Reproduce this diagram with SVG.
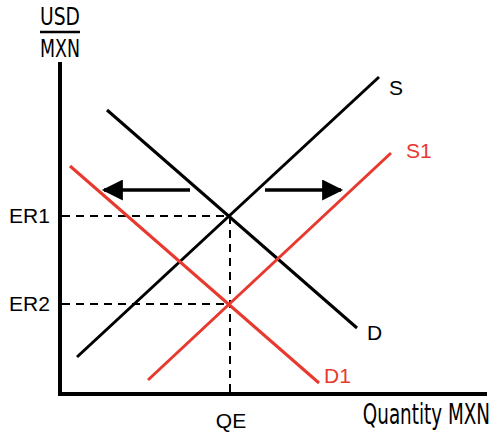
<svg xmlns="http://www.w3.org/2000/svg" width="496" height="435" viewBox="0 0 496 435">
<style>
.ax{stroke:#000;stroke-width:4;fill:none}
.blk{stroke:#000;stroke-width:3;fill:none}
.red{stroke:#e8392f;stroke-width:3;fill:none}
.dash{stroke:#000;stroke-width:2;stroke-dasharray:8 6;fill:none}
.arr{stroke:#000;stroke-width:3.5;fill:none}
.lbl{font-family:"Liberation Sans",Arial,sans-serif;font-size:21px;fill:#000}
.lr{font-family:"Liberation Sans",Arial,sans-serif;font-size:21px;fill:#e8392f}
.cond{font-family:"DejaVu Sans Condensed","Liberation Sans",sans-serif;font-size:24px;fill:#000}
</style>
<defs>
<marker id="ah" viewBox="0 0 10 10" refX="9" refY="5" markerWidth="7" markerHeight="6" markerUnits="strokeWidth" orient="auto">
<path d="M0,0 L10,5 L0,10 z" fill="#000"/>
</marker>
</defs>
<g id="axes">
<line class="ax" x1="60" y1="62" x2="60" y2="395"/>
<line class="ax" x1="58" y1="394" x2="487" y2="394"/>
<text class="cond" x="60" y="25" text-anchor="middle" textLength="40" lengthAdjust="spacingAndGlyphs">USD</text>
<line x1="40" y1="32" x2="80" y2="32" stroke="#000" stroke-width="2.5"/>
<text class="cond" x="60" y="57" text-anchor="middle" textLength="40" lengthAdjust="spacingAndGlyphs">MXN</text>
<text class="cond" transform="translate(490,424) scale(0.85,1.2)" x="0" y="0" text-anchor="end" font-size="20">Quantity MXN</text>
</g>
<g id="connectors">
<line class="dash" x1="62" y1="216" x2="230" y2="216"/>
<line class="dash" x1="62" y1="304" x2="230" y2="304"/>
<line class="dash" x1="230" y1="216" x2="230" y2="392"/>
<line class="arr" x1="190" y1="190" x2="104" y2="190" marker-end="url(#ah)"/>
<line class="arr" x1="265" y1="190" x2="341" y2="190" marker-end="url(#ah)"/>
</g>
<g id="S"><line class="blk" x1="77" y1="357" x2="379" y2="77"/><text class="lbl" x="389" y="95" font-size="22">S</text></g>
<g id="D"><line class="blk" x1="107" y1="110" x2="357" y2="328"/><text class="lbl" x="367" y="340">D</text></g>
<g id="S1"><line class="red" x1="148" y1="380" x2="391" y2="153"/><text class="lr" x="406" y="158">S1</text></g>
<g id="D1"><line class="red" x1="70" y1="166" x2="319" y2="383"/><text class="lr" x="324" y="383">D1</text></g>
<g id="ER1"><text class="lbl" x="9" y="223">ER1</text></g>
<g id="ER2"><text class="lbl" x="9" y="311">ER2</text></g>
<g id="QE"><text class="lbl" x="231" y="428" text-anchor="middle" font-size="20">QE</text></g>
</svg>
